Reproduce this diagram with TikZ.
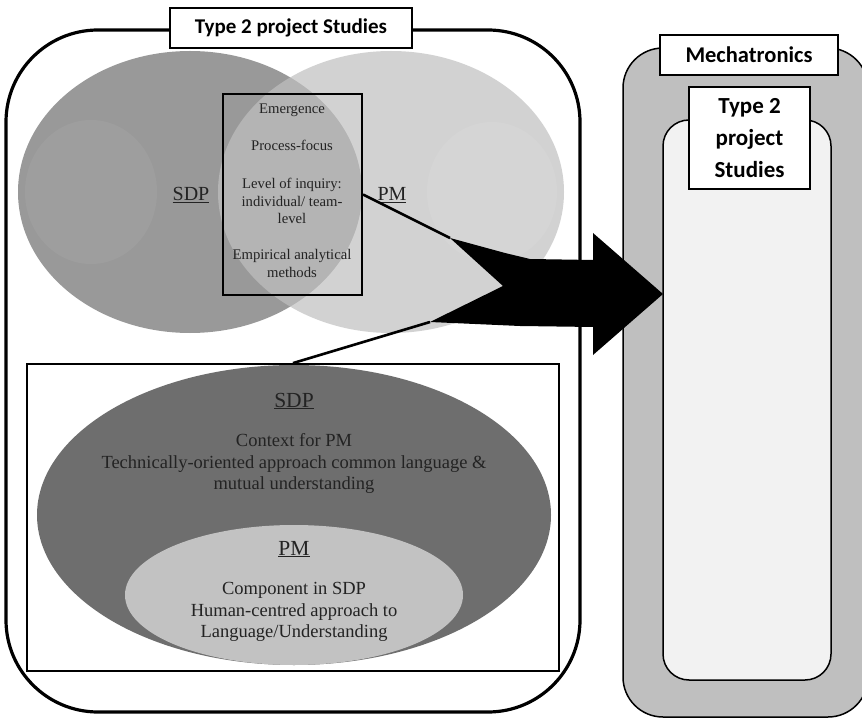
\documentclass[tikz,border=0pt]{standalone}
\usepackage{fontspec}
\setmainfont{Liberation Serif}
\newfontfamily\labelfont{Carlito}
\definecolor{txtgray}{HTML}{232323}
\definecolor{sdpgray}{HTML}{999999}
\definecolor{pmgray}{HTML}{C0C0C0}
\definecolor{sdplow}{HTML}{6E6E6E}
\definecolor{pmlow}{HTML}{C2C2C2}
\definecolor{outergray}{HTML}{BFBFBF}
\definecolor{innergray}{HTML}{F2F2F2}
\begin{document}
\begin{tikzpicture}[x=1pt,y=-1pt,
  frame/.style={draw=black,line width=3.2pt,rounded corners=92pt},
  tagbox/.style={draw=black,line width=1.3pt,fill=white,inner sep=0pt,align=center},
  serif/.style={text=txtgray,font=\fontsize{14.7}{17.6}\selectfont,align=center,inner sep=0pt},
  big/.style={text=txtgray,font=\fontsize{18.5}{21.5}\selectfont,align=center,inner sep=0pt},
  head/.style={text=txtgray,font=\fontsize{20}{24}\selectfont,inner sep=0pt,anchor=base},
  headlow/.style={text=txtgray,font=\fontsize{21.5}{25}\selectfont,inner sep=0pt,anchor=base},
  link/.style={line width=2.6pt}]
\useasboundingbox (0,0) rectangle (862,719);

% left container with its tag
\draw[frame,fill=white] (6,30) rectangle (580,712);
\node[tagbox,minimum width=242pt,minimum height=40pt,
  font=\labelfont\bfseries\fontsize{21}{25}\selectfont] (title) at (291,28) {Type 2 project Studies};

% overlapping SDP / PM sets
\fill[sdpgray] (190,192) ellipse [x radius=172pt,y radius=141pt];
\fill[white,opacity=0.05] (91,192) ellipse [x radius=66pt,y radius=72pt];
\fill[pmgray,opacity=0.7] (391,192) ellipse [x radius=173pt,y radius=141pt];
\fill[white,opacity=0.07] (492,192) ellipse [x radius=65pt,y radius=70pt];

\node[head] (sdpA) at (191,201) {\underline{SDP}};
\node[head] (pmA) at (392,201) {\underline{PM}};

% shared concerns in the overlap
\node[draw,line width=2pt,minimum width=139pt,minimum height=201pt,inner sep=0pt] (core) at (292.5,194.5) {};
\node[serif] (t1) at (292,110) {Emergence};
\node[serif] (t2) at (292,145) {Process-focus};
\node[serif] (t3) at (292,201) {Level of inquiry:\\individual/ team-\\level};
\node[serif] (t4) at (292,263.5) {Empirical analytical\\methods};

% nested view
\node[draw,line width=1.8pt,fill=white,minimum width=532pt,minimum height=307pt,inner sep=0pt] (detail) at (293,517.5) {};
\fill[sdplow] (294,515) ellipse [x radius=257pt,y radius=150pt];
\fill[pmlow] (294,595) ellipse [x radius=169pt,y radius=70pt];
\node[headlow] (sdpB) at (294,407) {\underline{SDP}};
\node[big] (ctx) at (294,463.5) {Context for PM\\Technically-oriented approach common language \&\\mutual understanding};
\node[headlow] (pmB) at (294,555) {\underline{PM}};
\node[big] (cmp) at (294,612) {Component in SDP\\Human-centred approach to\\Language/Understanding};

% right column
\draw[line width=1.5pt,fill=outergray,rounded corners=40pt] (623,48) rectangle (868,717);
\node[draw,line width=1.5pt,fill=innergray,rounded corners=26pt,minimum width=168pt,minimum height=560pt,inner sep=0pt] (tp2) at (747,400) {};
\node[tagbox,minimum width=178pt,minimum height=40pt,
  font=\labelfont\bfseries\fontsize{22.5}{26}\selectfont] (mech) at (749,55) {Mechatronics};
\node[tagbox,minimum width=121pt,minimum height=102pt,
  font=\labelfont\bfseries\fontsize{23}{32}\selectfont] (tp2tag) at (749.5,138) {Type 2\\project\\Studies};

% block arrow gathering both views
\coordinate (j1) at (450,238);
\coordinate (j2) at (430,322);
\fill[black] (j1) -- (505,253) -- (530,259) -- (593,260) -- (593,233) -- (663,294)
  -- (593,355) -- (593,327) -- (520,326) -- (j2) -- (503,286) -- cycle;
\draw[link] (core.east) -- (j1);
\draw[link] (detail.north) -- (j2);
\end{tikzpicture}
\end{document}
